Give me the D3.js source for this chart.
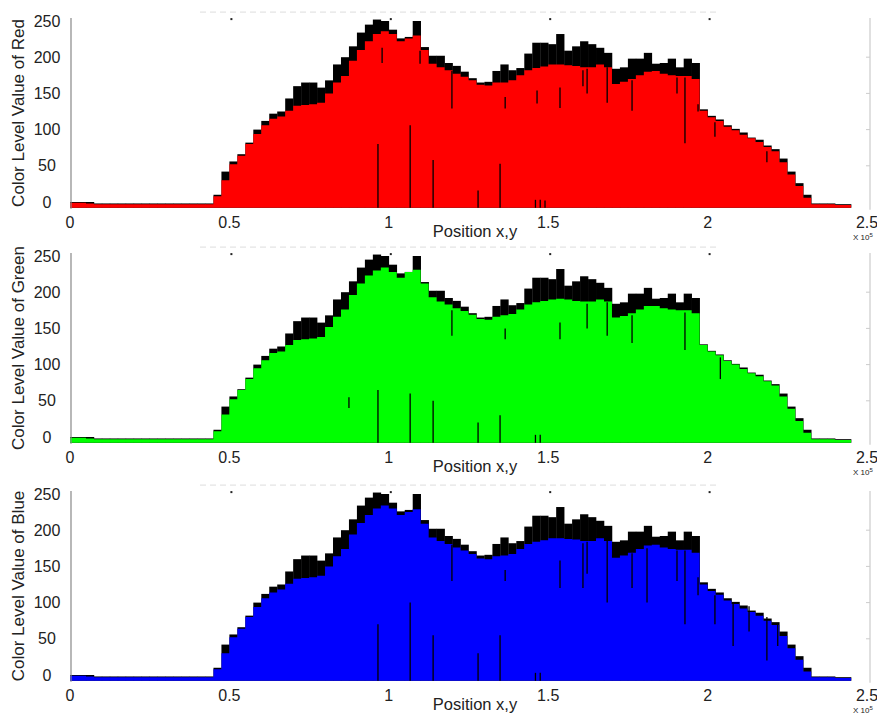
<!DOCTYPE html>
<html>
<head>
<meta charset="utf-8">
<script src="https://cdn.jsdelivr.net/npm/d3@7"></script>
<style>
  body { margin: 0; background: #fff; }
  svg text { font-family: "Liberation Sans", Arial, sans-serif; fill: #222; }
</style>
</head>
<body>
<div class="profile-chart"></div>
<script>
// one bin = 2500 positions along the x,y scan line
const binWidth = 2500;

// black envelope (same in every panel)
const topLevel = [0, 0, 0, -2, -2, -2, -2, -2, -2, -2, -2, -2, -2, -2, -2, -2, -2, -2,
  10, 42, 56, 66, 82, 100, 112, 122, 125, 143, 160, 165, 165, 158, 168, 190, 200, 215,
  234, 245, 252, 250, 238, 226, 228, 250, 214, 202, 202, 192, 188, 180, 171, 165, 166,
  181, 190, 182, 185, 205, 220, 220, 218, 232, 209, 215, 222, 218, 213, 206, 184, 186,
  198, 198, 206, 191, 192, 198, 186, 198, 192, 128, 119, 114, 106, 101, 96, 89, 86, 78,
  73, 60, 42, 26, 10, -2, -2, -2, -3, -3];

const redLevel = [-1, -1, -2, -3, -3, -3, -3, -3, -3, -3, -3, -3, -3, -3, -3, -3, -3, -3,
  8, 30, 52, 64, 80, 94, 106, 115, 118, 126, 133, 134, 135, 137, 150, 165, 174, 195,
  210, 222, 232, 236, 232, 222, 226, 230, 210, 191, 186, 182, 177, 173, 168, 162, 161,
  165, 165, 168, 175, 182, 185, 187, 190, 190, 189, 188, 186, 186, 190, 186, 163, 166,
  170, 175, 180, 181, 177, 175, 174, 174, 170, 126, 117, 112, 104, 99, 93, 88, 83, 76,
  70, 55, 38, 22, 6, -3, -3, -3, -4, -4];

const greenLevel = [-1, -1, -2, -3, -3, -3, -3, -3, -3, -3, -3, -3, -3, -3, -3, -3, -3, -3,
  8, 31, 52, 65, 80, 95, 106, 116, 118, 127, 134, 135, 136, 138, 152, 166, 176, 196,
  212, 223, 230, 234, 228, 220, 228, 231, 212, 193, 187, 183, 178, 174, 169, 163, 162,
  166, 168, 170, 176, 183, 186, 188, 190, 191, 190, 188, 187, 187, 190, 187, 165, 167,
  171, 176, 181, 181, 178, 176, 175, 175, 171, 127, 118, 113, 105, 100, 94, 88, 84, 77,
  71, 56, 39, 22, 6, -3, -3, -3, -4, -4];

const blueLevel = [-1, -1, -2, -3, -3, -3, -3, -3, -3, -3, -3, -3, -3, -3, -3, -3, -3, -3,
  8, 30, 52, 64, 80, 94, 106, 114, 118, 126, 133, 134, 135, 137, 150, 164, 174, 194,
  210, 221, 230, 234, 230, 221, 225, 229, 209, 190, 185, 181, 176, 172, 167, 161, 160,
  164, 165, 167, 174, 181, 184, 186, 189, 189, 188, 187, 185, 185, 189, 185, 162, 165,
  169, 174, 179, 180, 176, 174, 173, 173, 169, 125, 116, 111, 103, 98, 92, 87, 82, 75,
  69, 54, 37, 21, 5, -3, -3, -3, -4, -4];

// thin dark streaks inside the coloured area: [position, low level, high level]
const redStreaks = [[96600, -8, 80], [97900, 192, 213], [106700, -8, 106], [109800, 191, 209],
  [113900, -8, 58], [119800, 129, 181], [128000, -8, 16], [134900, -8, 53], [136500, 129, 145],
  [146500, 136, 154], [146000, -8, 3], [147500, -8, 3], [149000, -8, 2], [153700, 130, 158],
  [160900, 160, 182], [162200, 150, 184], [168500, 137, 186], [176300, 126, 168],
  [190400, 150, 172], [192900, 81, 172], [197000, 125, 135], [202300, 90, 110], [218600, 55, 70]];

const greenStreaks = [[87500, 40, 55], [96600, -8, 65], [106700, -8, 60], [113900, -8, 50],
  [119800, 140, 175], [128000, -8, 20], [134900, -8, 30], [136500, 135, 150], [146000, -8, 3],
  [147500, -8, 3], [153700, 135, 158], [162200, 150, 184], [168500, 140, 186], [176300, 130, 168],
  [192900, 120, 172], [204000, 80, 110]];

const blueStreaks = [[96600, -8, 70], [106700, -8, 100], [113900, -8, 55], [119800, 130, 180],
  [128000, -8, 30], [134900, -8, 55], [136500, 130, 145], [146000, -8, 3], [147500, -8, 3],
  [153700, 120, 158], [160900, 120, 182], [162200, 140, 184], [168500, 100, 186],
  [176300, 120, 168], [181000, 100, 175], [190400, 130, 172], [192900, 70, 172],
  [197000, 110, 135], [202300, 70, 110], [208000, 40, 100], [213000, 60, 95], [218600, 20, 80],
  [222000, 40, 70]];

const xTicks = [0, 50000, 100000, 150000, 200000, 250000];
const xTickLabels = ["0", "0.5", "1", "1.5", "2", "2.5"];
const yTicks = [0, 50, 100, 150, 200, 250];

const panels = [
  { name: "Red", color: "#ff0000", values: redLevel, streaks: redStreaks },
  { name: "Green", color: "#00ff00", values: greenLevel, streaks: greenStreaks },
  { name: "Blue", color: "#0000ff", values: blueLevel, streaks: blueStreaks }
];
const offsets = [0, 235, 473];

const width = 877;
const height = 722;
const svg = d3.select(".profile-chart").append("svg")
  .attr("width", width)
  .attr("height", height)
  .attr("viewBox", [0, 0, width, height]);

const x = d3.scaleLinear().domain([0, 250000]).range([70, 867]);

panels.forEach((p, k) => {
  const base = 202 + offsets[k];
  const y = d3.scaleLinear().domain([0, 250]).range([base, base - 181]);
  const bottom = y(-8);
  const top = y(254);
  const g = svg.append("g");

  const toPoints = vals => vals.map((v, i) => ({ pos: i * binWidth, v }))
    .concat([{ pos: vals.length * binWidth, v: vals[vals.length - 1] }]);

  const area = d3.area()
    .curve(d3.curveStepAfter)
    .x(d => x(d.pos))
    .y0(bottom)
    .y1(d => y(d.v));

  // black envelope as separate bars, the faint seams show like the original
  g.append("g").selectAll("rect")
    .data(topLevel)
    .join("rect")
    .attr("x", (d, i) => x(i * binWidth))
    .attr("width", x(binWidth) - x(0) + 0.3)
    .attr("y", d => y(d))
    .attr("height", d => bottom - y(d))
    .attr("fill", "#000");

  g.append("path")
    .datum(toPoints(p.values))
    .attr("d", area)
    .attr("fill", p.color);

  g.append("g").selectAll("line")
    .data(p.streaks)
    .join("line")
    .attr("x1", d => x(d[0])).attr("x2", d => x(d[0]))
    .attr("y1", d => y(d[1])).attr("y2", d => y(d[2]))
    .attr("stroke", "#000")
    .attr("stroke-width", 1.3);

  // axes frame
  g.append("line")
    .attr("x1", 71).attr("x2", 71).attr("y1", top).attr("y2", bottom + 1)
    .attr("stroke", "#888").attr("stroke-width", 1.2);
  g.append("line")
    .attr("x1", 870).attr("x2", 870).attr("y1", top).attr("y2", bottom + 2)
    .attr("stroke", "#ccc").attr("stroke-width", 1.2);
  g.append("g").selectAll("line")
    .data(yTicks.slice(1, 5))
    .join("line")
    .attr("x1", 866).attr("x2", 870)
    .attr("y1", d => y(d)).attr("y2", d => y(d))
    .attr("stroke", "#ccc");
  g.append("line")
    .attr("x1", 200).attr("x2", 720).attr("y1", top - 6).attr("y2", top - 6)
    .attr("stroke", "#ddd").attr("stroke-dasharray", "6,4");
  g.append("g").selectAll("rect")
    .data(xTicks.slice(1, 5))
    .join("rect")
    .attr("x", d => x(d) + 1).attr("y", top).attr("width", 2).attr("height", 2)
    .attr("fill", "#222");

  // tick labels
  g.append("g").selectAll("text")
    .data(yTicks)
    .join("text")
    .attr("x", 47)
    .attr("y", d => y(d) + 5.5)
    .attr("text-anchor", "middle")
    .attr("font-size", 16)
    .text(d => d);

  g.append("g").selectAll("text")
    .data(xTicks)
    .join("text")
    .attr("x", d => x(d))
    .attr("y", base + 26)
    .attr("text-anchor", "middle")
    .attr("font-size", 16)
    .text((d, i) => xTickLabels[i]);

  const exp = g.append("text")
    .attr("x", 853).attr("y", base + 38)
    .attr("font-size", 8);
  exp.append("tspan").text("X 10");
  exp.append("tspan").attr("dy", -3).attr("font-size", 6).text("5");

  g.append("text")
    .attr("x", 475).attr("y", base + 35)
    .attr("text-anchor", "middle")
    .attr("font-size", 16.5)
    .text("Position x,y");

  g.append("text")
    .attr("transform", `translate(24,${base - 89}) rotate(-90)`)
    .attr("text-anchor", "middle")
    .attr("font-size", 17)
    .text("Color Level Value of " + p.name);
});
</script>
</body>
</html>
